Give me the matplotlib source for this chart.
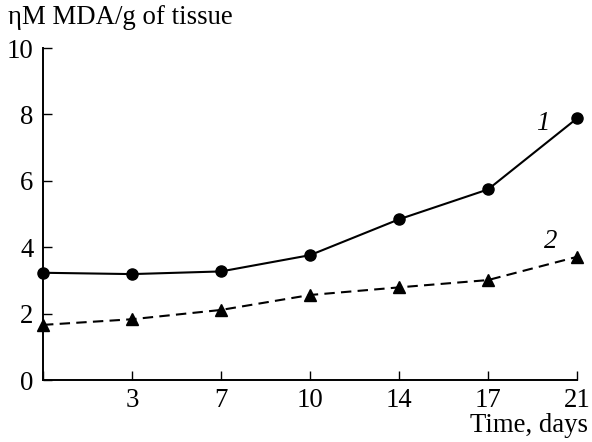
import matplotlib
matplotlib.use("Agg")
import matplotlib.pyplot as plt

days = ["", "3", "7", "10", "14", "17", "21"]
series1 = [3.23, 3.19, 3.27, 3.76, 4.84, 5.74, 7.88]
series2 = [1.66, 1.83, 2.11, 2.56, 2.79, 3.01, 3.71]
yticks = [0, 2, 4, 6, 8, 10]

plt.rcParams['font.family'] = ['Liberation Serif', 'DejaVu Serif']
fs = 19.3

fig = plt.figure(figsize=(5.92, 4.42), dpi=100)
ax = fig.add_axes([43/592, 62/442, 534/592, 332/442])
x = list(range(len(days)))
ax.plot(x, series1, '-', color='black', lw=1.5, marker='o', ms=8, clip_on=False, zorder=3)
ax.plot(x, series2, '--', color='black', lw=1.5, marker='^', ms=8.5, clip_on=False,
        dashes=(5, 3), zorder=3)
ax.set_xlim(0, 6)
ax.set_ylim(0, 10)
ax.set_xticks(x)
ax.set_xticklabels(days)
ax.set_yticks(yticks)
for s in ['top', 'right']:
    ax.spines[s].set_visible(False)
for s in ['left', 'bottom']:
    ax.spines[s].set_linewidth(1.4)
ax.tick_params(direction='in', length=6.5, width=1.0, labelsize=fs, pad=6)
ax.tick_params(axis='y', pad=7)
ax.text(5.61, 7.74, "1", style='italic', fontsize=fs, ha='center', va='center')
ax.text(5.70, 4.16, "2", style='italic', fontsize=fs, ha='center', va='center')
fig.text(588/592, 1 - 426/442, "Time, days", fontsize=fs, ha='right', va='center')
fig.text(8/592, 1 - 17/442, "ηM MDA/g of tissue", fontsize=fs, ha='left', va='center')
fig.savefig("out.png", dpi=100)
